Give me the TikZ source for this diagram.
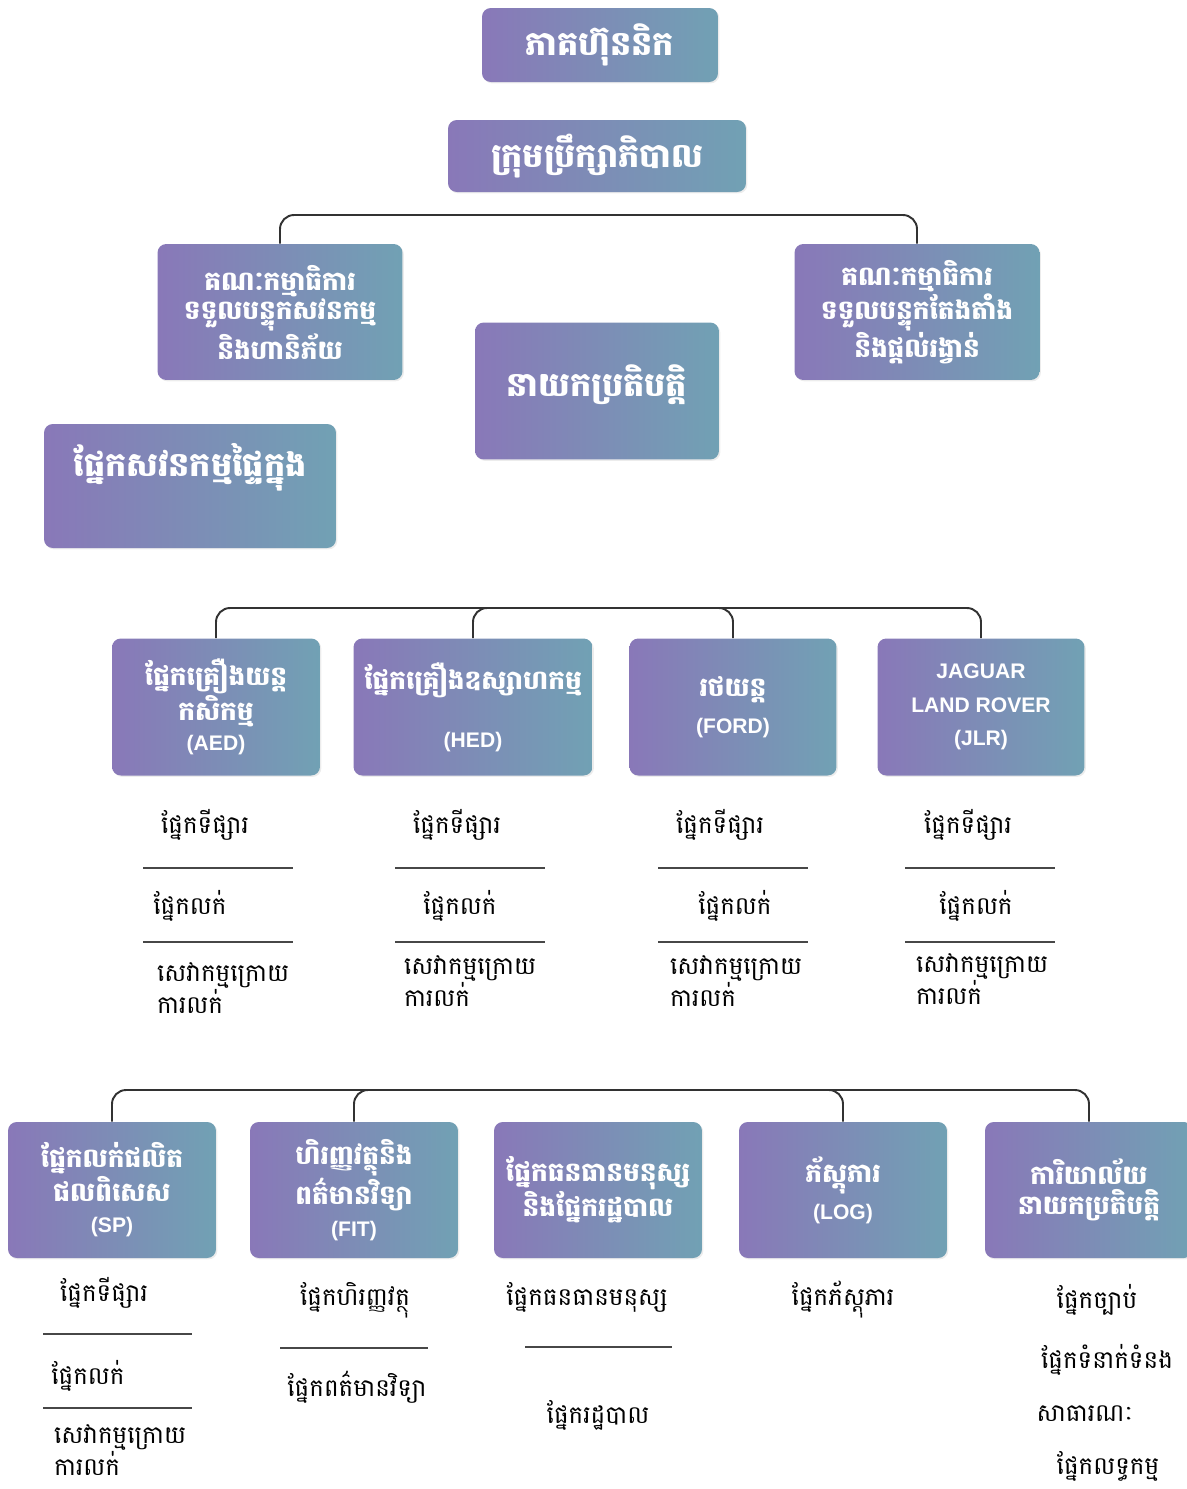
\documentclass[tikz,border=0pt]{standalone}
\usepackage{fontspec}
\usetikzlibrary{positioning,shadows}
\newfontfamily\khmer[Script=Khmer]{Battambang}
\newfontfamily\latin{Liberation Sans}
\definecolor{unitleft}{RGB}{137,120,184}
\definecolor{unitright}{RGB}{113,161,180}
\definecolor{linkgray}{RGB}{50,50,50}
\def\colw{4.16cm}
\def\unith{2.72cm}
\newcommand{\unitcode}[1]{{\latin\bfseries\fontsize{12}{14}\selectfont #1}}

\begin{document}
\begin{tikzpicture}[x=0.02cm,y=-0.02cm]
            \tikzstyle{unit}=[rounded corners=5pt,left color=unitleft,right color=unitright,
                text=white,align=center,inner sep=2pt,
                font=\khmer\bfseries\fontsize{15}{17}\selectfont,
                drop shadow={opacity=0.15,shadow xshift=0.8pt,shadow yshift=-0.8pt}]
            \tikzstyle{big unit}=[unit,font=\khmer\bfseries\fontsize{19}{21}\selectfont]
            \tikzstyle{link}=[draw=linkgray,line width=1.1pt,rounded corners=8pt]
            \tikzstyle{sub}=[font=\khmer\fontsize{14}{15.5}\selectfont,inner sep=1pt]
            \tikzstyle{rule}=[draw=linkgray!90,line width=1pt]

            \useasboundingbox (0,0) rectangle (1187,1489);

            % Top of the chart
            \node[big unit,minimum width=4.72cm,minimum height=1.48cm] (share) at (600,45) {ភាគហ៊ុននិក};
            \node[big unit,minimum width=5.96cm,minimum height=1.44cm] (board) at (597,156) {ក្រុមប្រឹក្សាភិបាល};
            \node[unit,minimum width=4.9cm,minimum height=\unith] (comA) at (280,312) {គណៈកម្មាធិការ\\ទទួលបន្ទុកសវនកម្ម\\និងហានិភ័យ};
            \node[unit,minimum width=4.9cm,minimum height=\unith] (comB) at (917,312) {គណៈកម្មាធិការ\\ទទួលបន្ទុកតែងតាំង\\និងផ្តល់រង្វាន់};
            \node[big unit,minimum width=4.88cm,minimum height=2.74cm,text depth=12pt] (ceo) at (597,391) {នាយកប្រតិបត្តិ};
            \node[big unit,minimum width=5.84cm,minimum height=2.48cm,text depth=30pt] (audit) at (190,486) {ផ្នែកសវនកម្មផ្ទៃក្នុង};

            % Business divisions
            \node[unit,minimum width=\colw,minimum height=2.74cm] (AED) at (216,707) {ផ្នែកគ្រឿងយន្ត\\កសិកម្ម\\\unitcode{(AED)}};
            \node[unit,minimum width=4.78cm,minimum height=2.74cm] (HED) at (473,707) {ផ្នែកគ្រឿងឧស្សាហកម្ម\\[16pt]\unitcode{(HED)}};
            \node[unit,minimum width=4.14cm,minimum height=2.74cm] (FORD) at (733,707) {រថយន្ត\\[4pt]\unitcode{(FORD)}};
            \node[unit,minimum width=4.14cm,minimum height=2.74cm,font=\latin\bfseries\fontsize{12}{19}\selectfont] (JLR) at (981,707) {JAGUAR\\LAND ROVER\\(JLR)};

            % Support units
            \node[unit,minimum width=\colw,minimum height=\unith] (SP) at (112,1190) {ផ្នែកលក់ផលិត\\ផលពិសេស\\[1pt]\unitcode{(SP)}};
            \node[unit,minimum width=\colw,minimum height=\unith] (FIT) at (354,1190) {ហិរញ្ញវត្ថុនិង\\ពត៌មានវិទ្យា\\[1pt]\unitcode{(FIT)}};
            \node[unit,minimum width=\colw,minimum height=\unith] (HR) at (598,1190) {ផ្នែកធនធានមនុស្ស\\និងផ្នែករដ្ឋបាល};
            \node[unit,minimum width=\colw,minimum height=\unith] (LOG) at (843,1190) {ភ័ស្តុភារ\\[4pt]\unitcode{(LOG)}};
            \node[unit,minimum width=\colw,minimum height=\unith] (office) at (1089,1190) {ការិយាល័យ\\នាយកប្រតិបត្តិ};

            % Connect the committees, divisions and units
            \coordinate (topbar) at (600,215);
            \coordinate (deptbar) at (600,608);
            \coordinate (unitbar) at (600,1090);
            \draw[link] (comA.north) |- (topbar) -| (comB.north);
            \draw[link] (AED.north) |- (deptbar) -| (JLR.north);
            \draw[link] (HED.north) |- (FORD.north |- deptbar);
            \draw[link] (FORD.north) |- (HED.north |- deptbar);
            \draw[link] (SP.north) |- (unitbar) -| (office.north);
            \draw[link] (FIT.north) |- (LOG.north |- unitbar);
            \draw[link] (LOG.north) |- (FIT.north |- unitbar);

            % Sections under each division
            \foreach \name/\x/\mx/\sx/\ax/\ay in {AED/218/205/190/155/988,HED/470/457/460/402/981,FORD/733/720/735/668/981,JLR/980/968/976/914/979}
            {
                \node[sub] (\name-market) at (\mx,825) {ផ្នែកទីផ្សារ};
                \draw[rule] (\x-75,868) -- (\x+75,868);
                \node[sub] (\name-sales) at (\sx,906) {ផ្នែកលក់};
                \draw[rule] (\x-75,942) -- (\x+75,942);
                \node[sub,anchor=west,align=left] (\name-after) at (\ax,\ay) {សេវាកម្មក្រោយ\\ការលក់};
            }

            % Sections under each support unit
            \node[sub] (SP-market) at (104,1293) {ផ្នែកទីផ្សារ};
            \draw[rule] (43,1334) -- (192,1334);
            \node[sub] (SP-sales) at (88,1376) {ផ្នែកលក់};
            \draw[rule] (43,1408) -- (192,1408);
            \node[sub,anchor=west,align=left] (SP-after) at (52,1450) {សេវាកម្មក្រោយ\\ការលក់};

            \node[sub] (FIT-fin) at (355,1300) {ផ្នែកហិរញ្ញវត្ថុ};
            \draw[rule] (280,1348) -- (428,1348);
            \node[sub] (FIT-it) at (357,1387) {ផ្នែកពត៌មានវិទ្យា};

            \node[sub] (HR-hr) at (587,1297) {ផ្នែកធនធានមនុស្ស};
            \draw[rule] (525,1347) -- (672,1347);
            \node[sub] (HR-admin) at (598,1415) {ផ្នែករដ្ឋបាល};

            \node[sub] (LOG-log) at (843,1300) {ផ្នែកភ័ស្តុភារ};

            \node[sub] (office-law) at (1097,1300) {ផ្នែកច្បាប់};
            \node[sub] (office-pr) at (1107,1360) {ផ្នែកទំនាក់ទំនង};
            \node[sub] (office-public) at (1085,1414) {សាធារណៈ};
            \node[sub] (office-buy) at (1108,1466) {ផ្នែកលទ្ធកម្ម};
        \end{tikzpicture}
\end{document}
